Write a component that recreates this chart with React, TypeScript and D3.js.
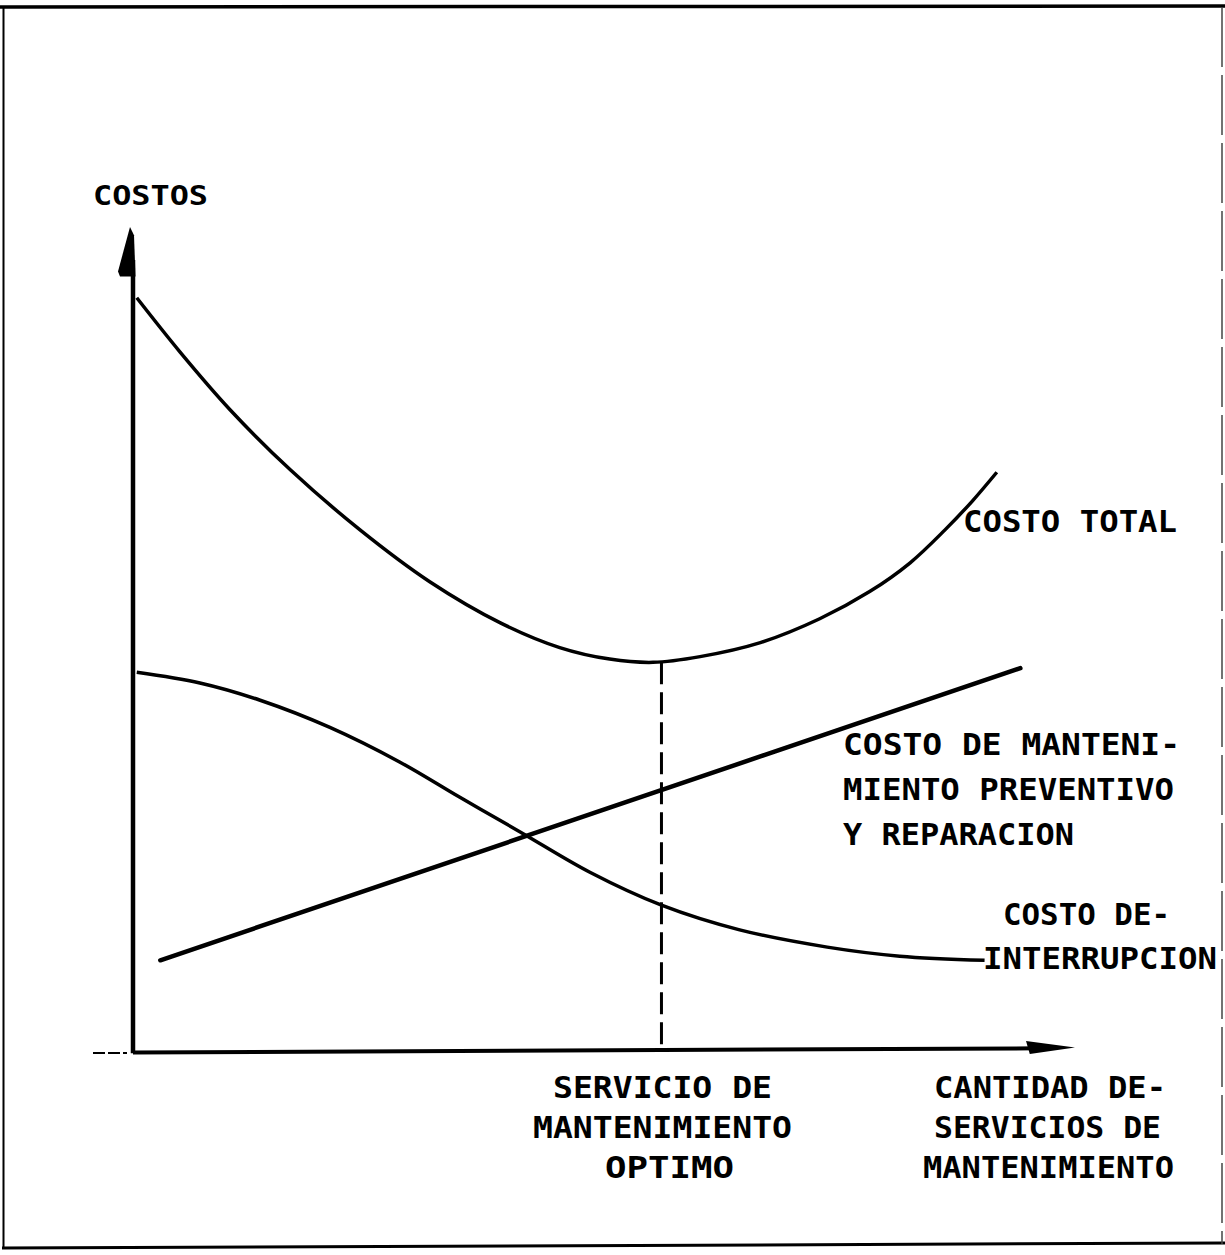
import React from "react";
import * as d3 from "d3";

// Values (x: quantity of maintenance service 0-100, y: cost 0-100)
const costoTotal: [number, number][] = [
  [0.4, 91.4], [5.0, 84.8], [10.3, 77.8], [16.7, 70.5], [24.1, 63.2], [31.5, 56.9],
  [39.0, 51.9], [45.3, 48.9], [50.6, 47.5], [55.2, 47.1], [60.2, 47.8], [66.6, 49.5],
  [72.9, 52.4], [78.2, 55.7], [82.5, 59.2], [86.2, 63.2], [89.1, 66.7], [91.7, 70.2],
];
const costoInterrupcion: [number, number][] = [
  [0.4, 45.9], [7.1, 44.6], [13.5, 42.5], [20.9, 39.2], [28.3, 35.0], [34.7, 30.7],
  [41.1, 26.5], [48.5, 21.6], [56.1, 17.6], [64.4, 14.6], [73.7, 12.5], [81.4, 11.4],
  [90.4, 10.9],
];
const costoMantenimiento: [number, number][] = [[2.9, 10.9], [94.2, 46.4]];
const optimoX = 56.1;

const labelCostos = "COSTOS";
const labelTotal = "COSTO TOTAL";
const labelMant = ["COSTO DE MANTENI-", "MIENTO PREVENTIVO", "Y REPARACION"];
const labelInterr = ["COSTO DE-", "INTERRUPCION"];
const labelOptimo = ["SERVICIO DE", "MANTENIMIENTO", "OPTIMO"];
const labelCantidad = ["CANTIDAD DE-", "SERVICIOS DE", "MANTENIMIENTO"];

const W = 1225;
const H = 1255;
const x = d3.scaleLinear().domain([0, 100]).range([133, 1075]);
const y = d3.scaleLinear().domain([0, 100]).range([1050, 227]);

const line = d3
  .line<[number, number]>()
  .x((d) => x(d[0]))
  .y((d) => y(d[1]))
  .curve(d3.curveCatmullRom.alpha(0.5));

const font = "'DejaVu Sans Mono', 'Liberation Mono', monospace";

function T({ s, x0, yb, w, size = 30 }: { s: string; x0: number; yb: number; w: number; size?: number }) {
  return (
    <text
      x={x0}
      y={yb}
      fontFamily={font}
      fontWeight="bold"
      fontSize={size}
      textLength={w}
      lengthAdjust="spacingAndGlyphs"
      fill="#000"
    >
      {s}
    </text>
  );
}

export default function App() {
  const minTotal = d3.min(costoTotal.filter((d) => Math.abs(d[0] - optimoX) < 2), (d) => d[1]) ?? 47;
  return (
    <svg
      width={W}
      height={H}
      viewBox={`0 0 ${W} ${H}`}
      style={{ position: "absolute", left: 0, top: 0, background: "#fff" }}
    >
      <rect x={0} y={0} width={W} height={H} fill="#fff" />
      {/* frame */}
      <line x1={0} y1={7} x2={W} y2={6} stroke="#000" strokeWidth={3.5} />
      <line x1={3.5} y1={7} x2={3.5} y2={1247} stroke="#000" strokeWidth={2} />
      <line x1={2} y1={1248} x2={W} y2={1243} stroke="#000" strokeWidth={3} />
      <line x1={1222} y1={7} x2={1222} y2={1244} stroke="#444" strokeWidth={1.5} strokeDasharray="60 8" />

      {/* axes */}
      <line x1={x(0)} y1={y(-0.4)} x2={x(0)} y2={y(96)} stroke="#000" strokeWidth={4.5} />
      <path
        d={`M${x(0) - 3},${y(100)} L${x(0) - 15},${y(94.6)} L${x(0) - 13},${y(94.0)} L${x(0) + 2.5},${y(94.0)} L${x(0) + 1},${y(99)} Z`}
        fill="#000"
      />
      <line x1={x(0)} y1={y(-0.3)} x2={x(96)} y2={y(0.2)} stroke="#000" strokeWidth={4} />
      <path
        d={`M${x(94.8)},${y(1.1)} L${x(100)},${y(0.3)} L${x(95.2)},${y(-0.5)} Z`}
        fill="#000"
      />
      <line x1={93} y1={y(-0.35)} x2={127} y2={y(-0.35)} stroke="#000" strokeWidth={2} strokeDasharray="12 3" />

      {/* curves */}
      <path d={line(costoTotal) ?? ""} fill="none" stroke="#000" strokeWidth={3.5} />
      <path d={line(costoInterrupcion) ?? ""} fill="none" stroke="#000" strokeWidth={3.5} />
      <path d={line(costoMantenimiento) ?? ""} fill="none" stroke="#000" strokeWidth={4.5} strokeLinecap="round" />

      {/* optimum */}
      <line
        x1={x(optimoX)}
        y1={y(minTotal)}
        x2={x(optimoX)}
        y2={y(0)}
        stroke="#000"
        strokeWidth={3}
        strokeDasharray="22 8"
      />

      {/* labels */}
      <T s={labelCostos} x0={93} yb={205} w={115} size={27} />
      <T s={labelTotal} x0={963} yb={532} w={214} />
      <T s={labelMant[0]} x0={843} yb={755} w={337} />
      <T s={labelMant[1]} x0={843} yb={800} w={331} />
      <T s={labelMant[2]} x0={843} yb={845} w={231} />
      <T s={labelInterr[0]} x0={1003} yb={925} w={167} />
      <T s={labelInterr[1]} x0={983} yb={969} w={234} />
      <T s={labelOptimo[0]} x0={553} yb={1098} w={219} />
      <T s={labelOptimo[1]} x0={533} yb={1138} w={259} />
      <T s={labelOptimo[2]} x0={605} yb={1178} w={129} />
      <T s={labelCantidad[0]} x0={934} yb={1098} w={232} />
      <T s={labelCantidad[1]} x0={934} yb={1138} w={227} />
      <T s={labelCantidad[2]} x0={923} yb={1178} w={251} />
    </svg>
  );
}
